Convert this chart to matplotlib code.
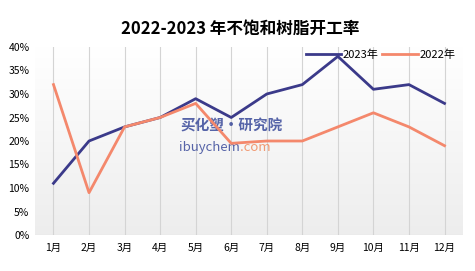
import numpy as np
import matplotlib.pyplot as plt

plt.rcParams['font.family'] = ['Noto Sans CJK SC', 'DejaVu Sans']

months = ["1月", "2月", "3月", "4月", "5月", "6月", "7月", "8月", "9月", "10月", "11月", "12月"]
rate_2023 = [11, 20, 23, 25, 29, 25, 30, 32, 38, 31, 32, 28]
rate_2022 = [32, 9, 23, 25, 28, 19.5, 20, 20, 23, 26, 23, 19]
yticks = [0, 5, 10, 15, 20, 25, 30, 35, 40]

c23 = "#3b3a8a"
c22 = "#f4886c"

fig = plt.figure(figsize=(4.75, 2.71), dpi=100)
ax = fig.add_axes([35 / 475, 1 - 235 / 271, (463 - 35) / 475, (235 - 47) / 271])

x = np.arange(len(months))
ax.set_xlim(-0.52, len(months) - 0.48)
ax.set_ylim(0, 40)

# gradient background, white at top to light gray at bottom
grad = np.linspace(1.0, 0.93, 256).reshape(-1, 1)
ax.imshow(np.dstack([grad, grad, grad]), extent=[-0.52, len(months) - 0.48, 0, 40],
          aspect='auto', origin='upper', zorder=0)

for xi in x:
    ax.axvline(xi, color="#d4d4d4", lw=0.8, zorder=1)
ax.axhline(0, color="#d0d0d0", lw=0.8, zorder=1)

ax.plot(x, rate_2023, color=c23, lw=2, label="2023年", zorder=3)
ax.plot(x, rate_2022, color=c22, lw=2, label="2022年", zorder=3)

ax.set_xticks(x)
ax.set_xticklabels(months, fontsize=7.5)
ax.set_yticks(yticks)
ax.set_yticklabels(["{}%".format(v) for v in yticks], fontsize=7.5)
ax.tick_params(length=0, pad=6)
ax.tick_params(axis='y', pad=4)
for s in ax.spines.values():
    s.set_visible(False)

fig.text(0.505, 0.895, "2022-2023 年不饱和树脂开工率", ha='center', va='center',
         fontsize=12, fontweight='bold')

ax.legend(loc='upper right', bbox_to_anchor=(0.995, 1.015), ncol=2, frameon=False,
          fontsize=8, handlelength=3.2, handletextpad=0.15, columnspacing=0.3,
          borderpad=0)

# watermark
ax.text(5.0, 23.2, "买化塑·研究院", fontsize=10.5, fontweight='bold', style='italic',
        color="#3a4a9a", ha='center', va='center', alpha=0.85, zorder=2)
ax.text(5.25, 18.7, "ibuychem", fontsize=9.5, color="#3a4a9a", ha='right', va='center',
        alpha=0.85, zorder=2)
ax.text(5.25, 18.7, ".com", fontsize=9.5, color="#f08a5d", ha='left', va='center',
        alpha=0.85, zorder=2)

fig.savefig("out.png", dpi=100)
